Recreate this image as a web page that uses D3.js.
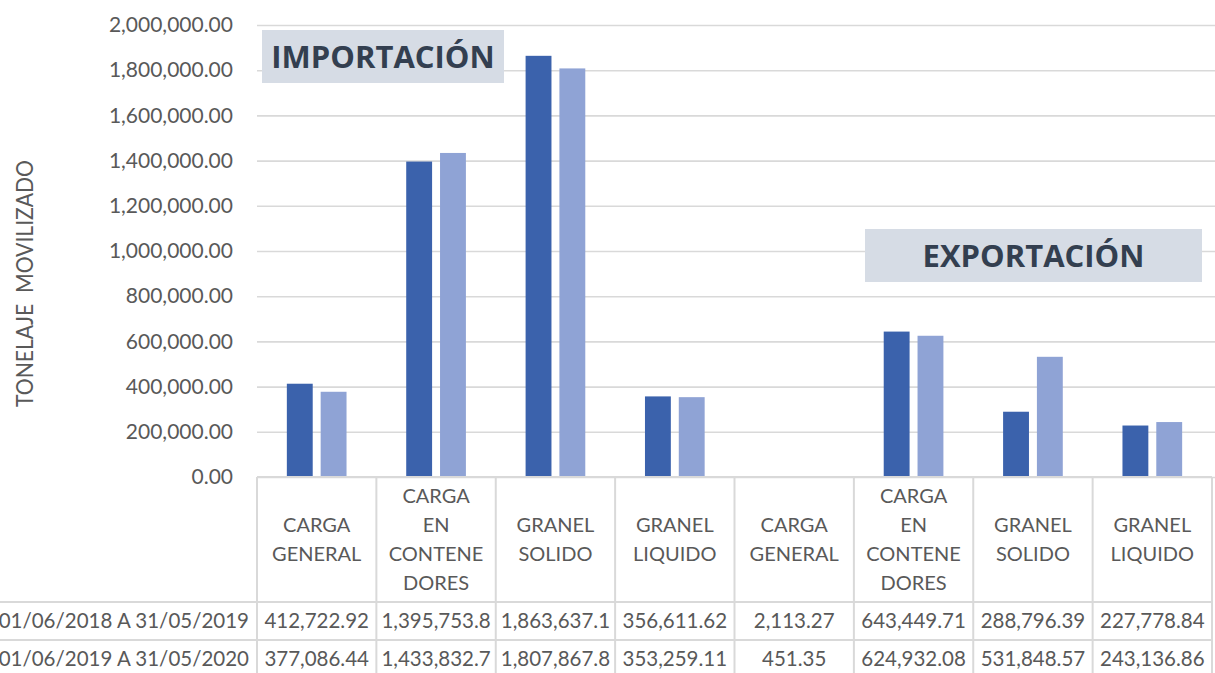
<!DOCTYPE html>
<html><head><meta charset="utf-8">
<script src="https://cdn.jsdelivr.net/npm/d3@7"></script>
<style>
html,body{margin:0;padding:0;background:#fff;}
svg{display:block;font-family:Lato, "Open Sans", sans-serif;}
</style></head>
<body><svg id="c" width="1215" height="673"></svg>
<script>
const categories = [
  ["CARGA","GENERAL"],
  ["CARGA","EN","CONTENE","DORES"],
  ["GRANEL","SOLIDO"],
  ["GRANEL","LIQUIDO"],
  ["CARGA","GENERAL"],
  ["CARGA","EN","CONTENE","DORES"],
  ["GRANEL","SOLIDO"],
  ["GRANEL","LIQUIDO"]
];
const seriesNames = ["01/06/2018 A 31/05/2019","01/06/2019 A 31/05/2020"];
const values2019 = [412722.92,1395753.8,1863637.1,356611.62,2113.27,643449.71,288796.39,227778.84];
const values2020 = [377086.44,1433832.7,1807867.8,353259.11,451.35,624932.08,531848.57,243136.86];
const valueLabels2019 = ["412,722.92","1,395,753.8","1,863,637.1","356,611.62","2,113.27","643,449.71","288,796.39","227,778.84"];
const valueLabels2020 = ["377,086.44","1,433,832.7","1,807,867.8","353,259.11","451.35","624,932.08","531,848.57","243,136.86"];
const yTicks = [0,200000,400000,600000,800000,1000000,1200000,1400000,1600000,1800000,2000000];
const groupLabels = ["IMPORTACIÓN","EXPORTACIÓN"];
const yTitle = "TONELAJE  MOVILIZADO";

(function(){
const series = [values2019, values2020];
const seriesLabels = [valueLabels2019, valueLabels2020];
const colors = ["#3B62AC","#8FA3D5"];
const textCol = "#595959", gridCol = "#D9D9D9";

const svg = d3.select("#c");
const pLeft = 257, pRight = 1212, pTop = 25, pBase = 477;
const x0 = d3.scaleBand().domain(d3.range(categories.length)).range([pLeft,pRight]).padding(0);
const bw = x0.bandwidth();
const x1 = d3.scaleBand().domain([0,1]).range([bw*0.25, bw*0.75]).paddingInner(0.235);
const y = d3.scaleLinear().domain([0,2000000]).range([pBase, pTop]);

const fmt = d3.format(",.2f");
const yAxis = d3.axisLeft(y).tickValues(yTicks).tickFormat(fmt).tickSize(-(1215-pLeft)).tickPadding(24);
const ga = svg.append("g").attr("transform",`translate(${pLeft},0)`).call(yAxis);
ga.select(".domain").remove();
ga.selectAll(".tick line").attr("stroke",gridCol).attr("stroke-width",1.6);
ga.selectAll(".tick text").attr("fill",textCol).style("font-size","21px").style("font-family","Lato");

svg.append("text").attr("transform","translate(33,283.5) rotate(-90)")
  .attr("text-anchor","middle").attr("fill",textCol).style("font-size","23px").style("white-space","pre")
  .attr("textLength",247).attr("lengthAdjust","spacingAndGlyphs")
  .text(yTitle);

series.forEach((vals,si)=>{
  svg.append("g").selectAll("rect").data(vals).join("rect")
    .attr("x",(d,i)=>x0(i)+x1(si))
    .attr("width",x1.bandwidth())
    .attr("y",d=>y(d))
    .attr("height",d=>pBase-y(d))
    .attr("fill",colors[si]);
});

const boxes = [{cx:383, cy:56.5, w:242, h:53},{cx:1033.5, cy:255.5, w:337, h:53}];
boxes.forEach((b,i)=>{
  svg.append("rect").attr("x",b.cx-b.w/2).attr("y",b.cy-b.h/2).attr("width",b.w).attr("height",b.h).attr("fill","#D6DCE5");
  svg.append("text").attr("x",b.cx).attr("y",b.cy+11).attr("text-anchor","middle")
    .attr("fill","#333F50").style("font-weight","bold").style("font-size","31px").style("font-family","'Open Sans', Lato, sans-serif")
    .text(groupLabels[i]);
});

const tg = svg.append("g");
const rowY = [602, 640, 678];
tg.append("line").attr("x1",pLeft).attr("x2",pRight).attr("y1",pBase).attr("y2",pBase).attr("stroke",gridCol).attr("stroke-width",2);
rowY.forEach(ry=>tg.append("line").attr("x1",0).attr("x2",pRight).attr("y1",ry).attr("y2",ry).attr("stroke",gridCol).attr("stroke-width",2));
d3.range(categories.length+1).forEach(i=>{
  const xx = i<categories.length ? x0(i) : pRight;
  tg.append("line").attr("x1",xx).attr("x2",xx).attr("y1",pBase).attr("y2",673).attr("stroke",gridCol).attr("stroke-width",2);
});
categories.forEach((lines,i)=>{
  const cx = x0(i)+bw/2;
  const lh = 29, cy = 539.5;
  const t = tg.append("text").attr("text-anchor","middle").attr("fill",textCol).style("font-size","20px");
  lines.forEach((ln,k)=>{
    t.append("tspan").attr("x",cx).attr("y",cy+(k-(lines.length-1)/2)*lh+7).text(ln);
  });
});
seriesLabels.forEach((labs,si)=>{
  const cy = (rowY[si]+rowY[si+1])/2 + 7;
  tg.append("text").attr("x",249).attr("y",cy).attr("text-anchor","end").attr("fill",textCol).style("font-size","20.5px").text(seriesNames[si]);
  labs.forEach((lb,i)=>{
    tg.append("text").attr("x",x0(i)+bw/2).attr("y",cy).attr("text-anchor","middle").attr("fill",textCol).style("font-size","20.5px").text(lb);
  });
});
})();
</script></body></html>
